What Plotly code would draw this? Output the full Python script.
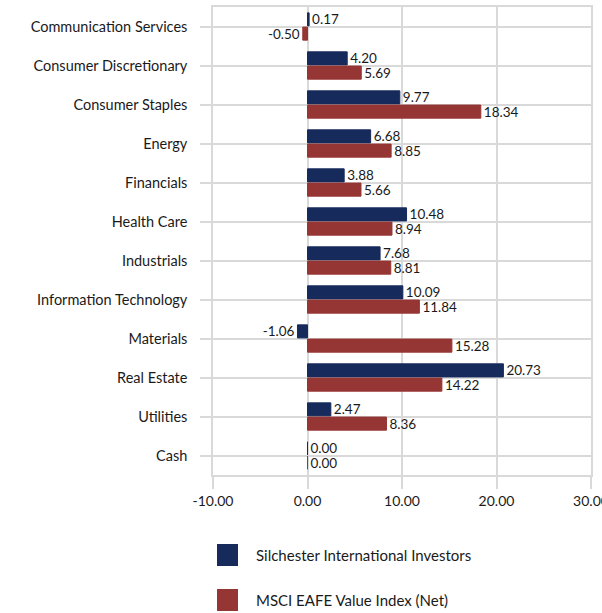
import plotly.graph_objects as go

categories = ["Communication Services", "Consumer Discretionary", "Consumer Staples", "Energy",
              "Financials", "Health Care", "Industrials", "Information Technology",
              "Materials", "Real Estate", "Utilities", "Cash"]
silchester = [0.17, 4.20, 9.77, 6.68, 3.88, 10.48, 7.68, 10.09, -1.06, 20.73, 2.47, 0.00]
msci = [-0.50, 5.69, 18.34, 8.85, 5.66, 8.94, 8.81, 11.84, 15.28, 14.22, 8.36, 0.00]
series_names = ["Silchester International Investors", "MSCI EAFE Value Index (Net)"]
colors = ["#172a5c", "#963634"]
x_ticks = [-10, 0, 10, 20, 30]

FONT = "Lato, 'Open Sans', sans-serif"
GRID = "#d9d9d9"

fig = go.Figure()
for name, vals, c in zip(series_names, [silchester, msci], colors):
    fig.add_trace(go.Bar(
        y=categories, x=vals, name=name, orientation="h",
        marker=dict(color=c, line=dict(color=c, width=1)),
        text=[f"{v:.2f}" for v in vals], textposition="outside",
        constraintext="none",
        textfont=dict(family=FONT, size=13.5, color="#1a1a1a"),
        cliponaxis=False, showlegend=False,
    ))

fig.update_layout(
    width=602, height=613,
    margin=dict(l=213, r=11, t=7, b=138),
    paper_bgcolor="white", plot_bgcolor="white",
    barmode="group", bargap=0.27, bargroupgap=0.08,
    font=dict(family=FONT, size=14, color="#1a1a1a"),
    xaxis=dict(range=[-10, 30], tickvals=x_ticks,
               ticktext=[f"{v:.2f}" for v in x_ticks], automargin=False,
               ticklabeloverflow="allow",
               showgrid=True, gridcolor=GRID, gridwidth=1.5, zeroline=False,
               showline=True, linecolor=GRID, linewidth=1.5, mirror=True,
               ticks="outside", ticklen=12, tickcolor=GRID, tickwidth=1.5,
               tickfont=dict(size=14)),
    yaxis=dict(autorange="reversed", showgrid=True, gridcolor=GRID, gridwidth=1.5,
               showline=True, linecolor=GRID, linewidth=1.5, mirror=True, automargin=False,
               ticks="outside", ticklen=11, tickcolor=GRID, tickwidth=1.5,
               ticklabelstandoff=10, tickfont=dict(size=14.5)),
)

# manual legend
pw, ph = 378.0, 468.0
def px_x(x):
    return (x - 213) / pw
def px_y(y):
    return (475 - y) / ph

for i, (name, c) in enumerate(zip(series_names, colors)):
    top = 544 + i * 45
    fig.add_shape(type="rect", xref="paper", yref="paper",
                  x0=px_x(217), x1=px_x(238), y0=px_y(top + 22), y1=px_y(top),
                  fillcolor=c, line=dict(width=0))
    fig.add_annotation(xref="paper", yref="paper", x=px_x(254), y=px_y(top + 11),
                       text=name, showarrow=False, xanchor="left", yanchor="middle",
                       font=dict(family=FONT, size=15, color="#1a1a1a"))

fig.write_html("out.html", config={"displayModeBar": False},
               post_script="document.body.style.margin='0';")
